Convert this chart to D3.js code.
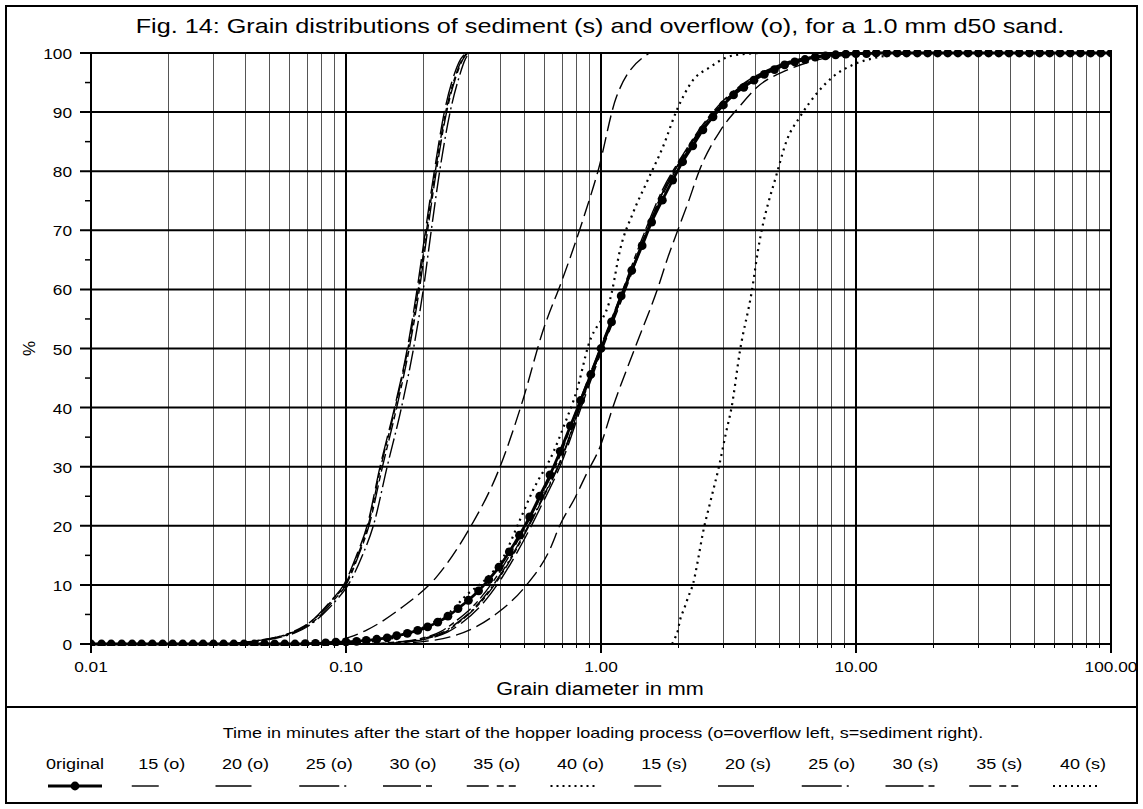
<html>
<head>
  <script src="https://d3js.org/d3.v7.min.js"></script>
  <style>
    body { margin: 0; background: #fff; }
    text { font-family: Arial, "Liberation Sans", sans-serif; fill: #000; }
  </style>
</head>
<body>
<svg id="chart"></svg>
<script type="text/javascript">
// sieve sizes (mm) of the original sample, one dot each
var sieveSizes = [
  0.0100, 0.0110, 0.0120, 0.0132, 0.0145, 0.0158, 0.0174, 0.0191, 0.0209, 0.0229,
  0.0251, 0.0275, 0.0302, 0.0331, 0.0363, 0.0398, 0.0437, 0.0479, 0.0525, 0.0575,
  0.0631, 0.0692, 0.0759, 0.0832, 0.0912,
  0.100, 0.110, 0.120, 0.132, 0.145, 0.158, 0.174, 0.191, 0.209, 0.229,
  0.251, 0.275, 0.302, 0.331, 0.363, 0.398, 0.437, 0.479, 0.525, 0.575,
  0.631, 0.692, 0.759, 0.832, 0.912,
  1.00, 1.10, 1.20, 1.32, 1.45, 1.58, 1.74, 1.91, 2.09, 2.29,
  2.51, 2.75, 3.02, 3.31, 3.63, 3.98, 4.37, 4.79, 5.25, 5.75,
  6.31, 6.92, 7.59, 8.32, 9.12,
  10.0, 11.0, 12.0, 13.2, 14.5, 15.8, 17.4, 19.1, 20.9, 22.9,
  25.1, 27.5, 30.2, 33.1, 36.3, 39.8, 43.7, 47.9, 52.5, 57.5,
  63.1, 69.2, 75.9, 83.2, 91.2,
  100
];
var originalPct = [
  0, 0, 0, 0, 0, 0, 0, 0, 0, 0, 0, 0, 0, 0, 0, 0, 0, 0, 0, 0, 0,
  0.05, 0.1, 0.2, 0.3, 0.35, 0.45, 0.6, 0.8, 1.05, 1.4,
  1.8, 2.3, 2.9, 3.7, 4.7, 6.0, 7.4, 9.0, 10.9, 13.0,
  15.6, 18.4, 21.5, 25.0, 28.6, 32.6, 36.9, 41.2, 45.6, 50.0,
  54.5, 58.9, 63.2, 67.4, 71.4, 75.1, 78.5, 81.6, 84.3, 87.0,
  89.2, 91.2, 92.9, 94.2, 95.4, 96.4, 97.2, 98.0, 98.5, 98.9,
  99.3, 99.5, 99.7, 99.8, 99.9, 99.9,
  100, 100, 100, 100, 100, 100, 100, 100, 100, 100, 100, 100,
  100, 100, 100, 100, 100, 100, 100, 100, 100, 100, 100, 100
];

// overflow samples [diameter mm, % passing]
var overflow15 = [[0.08,0],[0.104,1.2],[0.121,2.4],[0.167,6.3],[0.227,11.4],[0.298,18.8],[0.402,30],[0.494,41.3],[0.593,53.1],[0.70,61.3],[0.776,66.7],[0.86,72.5],[0.973,80],[1.15,92.6],[1.55,100]];
var overflow20 = [[0.034,0],[0.044,0.5],[0.054,1.2],[0.062,2],[0.069,3],[0.078,5],[0.088,7.5],[0.098,10],[0.110,15],[0.121,20],[0.136,30],[0.155,40],[0.174,50],[0.190,60],[0.205,70],[0.222,80],[0.243,90],[0.264,96],[0.282,99],[0.295,100]];
var overflow25 = [[0.036,0],[0.046,0.5],[0.056,1.2],[0.064,2],[0.071,3],[0.081,5],[0.092,7.5],[0.102,10],[0.116,15],[0.128,20],[0.145,30],[0.165,40],[0.184,50],[0.201,60],[0.216,70],[0.233,80],[0.256,90],[0.278,96],[0.294,99],[0.305,100]];
var overflow30 = [[0.035,0],[0.045,0.5],[0.055,1.2],[0.063,2],[0.070,3],[0.080,5],[0.090,7.5],[0.100,10],[0.112,15],[0.123,20],[0.139,30],[0.158,40],[0.177,50],[0.194,60],[0.209,70],[0.226,80],[0.248,90],[0.270,96],[0.288,99],[0.300,100]];
var overflow35 = [[0.035,0],[0.045,0.6],[0.055,1.3],[0.062,2.1],[0.069,3.1],[0.079,5.1],[0.089,7.6],[0.099,10],[0.111,15],[0.122,20],[0.137,30],[0.156,40],[0.175,50],[0.192,60],[0.207,70],[0.224,80],[0.246,90],[0.268,96],[0.286,99],[0.298,100]];
var overflow40 = [[0.10,0],[0.13,0.5],[0.17,1.5],[0.21,3.2],[0.256,5.4],[0.297,8.3],[0.35,10.8],[0.413,14.6],[0.481,21],[0.541,26],[0.648,32.3],[0.723,37.4],[0.805,43],[0.889,50.3],[1.101,59.4],[1.188,66.7],[1.334,72.9],[1.514,78.2],[1.749,84.1],[1.986,90.4],[2.295,95.4],[2.675,97.6],[3.12,99.3],[3.61,99.8],[4.2,100]];

// sediment samples
var sediment15 = [[0.15,0],[0.2,0.4],[0.256,1.2],[0.32,2.8],[0.391,5.2],[0.504,9.7],[0.63,16],[0.69,20.1],[0.79,24.7],[0.88,28.9],[0.99,33.3],[1.114,40.1],[1.359,50.1],[1.67,60.2],[1.832,65.5],[2.0,70],[2.2,74.8],[2.44,80.3],[2.93,86.8],[3.5,91],[4.09,94.2],[5.36,97.1],[7,98.8],[9,99.6],[11,100]];
var sediment20 = [[0.13,0],[0.17,0.3],[0.21,0.9],[0.25,2.0],[0.285,3.6],[0.34,6.6],[0.40,10.6],[0.49,17],[0.585,23.5],[0.71,31.3],[0.84,40.3],[1.01,49.8],[1.21,58.4],[1.46,67.8],[1.76,76.3],[2.11,82.4],[2.52,87.4],[3.02,91.4],[3.62,94.4],[4.52,96.9],[5.5,98.4],[7,99.3],[9,99.8],[11,100]];
var sediment25 = [[0.12,0],[0.16,0.3],[0.2,0.9],[0.24,2.0],[0.275,3.7],[0.33,6.8],[0.39,10.8],[0.48,17.3],[0.575,23.8],[0.7,31.5],[0.83,40.5],[1.0,49.8],[1.2,58.5],[1.45,68],[1.75,76.5],[2.1,82.5],[2.5,87.5],[3.0,91.5],[3.6,94.5],[4.5,97],[5.5,98.5],[7,99.4],[9,99.9],[11,100]];
var sediment30 = [[0.12,0],[0.155,0.3],[0.195,0.9],[0.235,2.1],[0.27,3.9],[0.325,7.0],[0.385,11.1],[0.475,17.7],[0.57,24.2],[0.69,31.8],[0.82,40.8],[0.99,50],[1.19,58.8],[1.44,68.3],[1.74,76.8],[2.09,82.7],[2.49,87.7],[2.98,91.7],[3.58,94.7],[4.48,97.1],[5.5,98.6],[7,99.5],[9,99.9],[11,100]];
var sediment35 = [[0.125,0],[0.165,0.3],[0.205,0.9],[0.245,2.0],[0.28,3.8],[0.335,6.9],[0.395,10.9],[0.485,17.4],[0.58,23.9],[0.705,31.6],[0.835,40.6],[1.005,50],[1.205,58.7],[1.455,68.1],[1.755,76.6],[2.105,82.6],[2.505,87.6],[3.0,91.6],[3.6,94.6],[4.5,97.0],[5.5,98.5],[7,99.4],[9,99.9],[11,100]];
var sediment40 = [[1.90,0],[1.95,1],[2.0,2.2],[2.04,4],[2.12,6],[2.2,8],[2.30,10.3],[2.4,14.2],[2.51,18.8],[2.675,23.8],[2.90,30],[3.09,35.7],[3.25,40],[3.51,49.7],[3.91,59.9],[4.13,66.7],[4.90,79.7],[5.36,85.3],[6.03,89.2],[7.03,93.2],[8.13,96],[9.73,98],[11.66,99.1],[14.0,99.7],[18,100]];

var legendLabels = ["0riginal", "15 (o)", "20 (o)", "25 (o)", "30 (o)", "35 (o)", "40 (o)",
                    "15 (s)", "20 (s)", "25 (o)", "30 (s)", "35 (s)", "40 (s)"];
var legendKeys = [0, 15, 20, 25, 30, 35, 40, 15, 20, 25, 30, 35, 40];
var yTicks = [0, 10, 20, 30, 40, 50, 60, 70, 80, 90, 100];
var yMinor = [5, 15, 25, 35, 45, 55, 65, 75, 85, 95];

var w = 1143;
var h = 809;

// line patterns per minute mark: chart dash, legend dash
var styles = {
  15: { dash: "16,6", legend: "27,100", len: 27 },
  20: { dash: "24,6", legend: "36,100", len: 36 },
  25: { dash: "20,4,2,4", legend: "40,5,2,100", len: 47 },
  30: { dash: "18,4,6,4", legend: "38,5,6,100", len: 49 },
  35: { dash: "14,3,5,3,5,3", legend: "22,8,7,5,7,100", len: 49 },
  40: { dash: "2,4.5", legend: "2,4", len: 48, dotted: true }
};

var series = [
  { pts: overflow15, s: 15 }, { pts: overflow20, s: 20 }, { pts: overflow25, s: 25 },
  { pts: overflow30, s: 30 }, { pts: overflow35, s: 35 }, { pts: overflow40, s: 40 },
  { pts: sediment15, s: 15 }, { pts: sediment20, s: 20 }, { pts: sediment25, s: 25 },
  { pts: sediment30, s: 30 }, { pts: sediment35, s: 35 }, { pts: sediment40, s: 40 }
];

// the original figure's lettering is a bit wider than Arial
function stretch(sel, k) {
  sel.each(function () {
    var len = this.getComputedTextLength();
    d3.select(this).attr("textLength", len * k).attr("lengthAdjust", "spacingAndGlyphs");
  });
}

var svg = d3.select("#chart").attr("width", w).attr("height", h);

var x = d3.scaleLog().domain([0.01, 100]).range([91, 1111]);
var y = d3.scaleLinear().domain([0, 100]).range([644, 53]);

// outer frame + separator
svg.append("rect")
  .attr("x", 6).attr("y", 6).attr("width", 1131).attr("height", 797)
  .attr("fill", "none").attr("stroke", "#000").attr("stroke-width", 2);
svg.append("line")
  .attr("x1", 6).attr("x2", 1137).attr("y1", 707).attr("y2", 707)
  .attr("stroke", "#000").attr("stroke-width", 2);

svg.append("text")
  .attr("x", 600).attr("y", 33)
  .attr("text-anchor", "middle")
  .attr("font-size", "21px")
  .text("Fig. 14: Grain distributions of sediment (s) and overflow (o), for a 1.0 mm d50 sand.")
  .call(stretch, 1.2);

// vertical grid, log ticks
var logTicks = x.ticks();
var isMajor = function (d) { return Math.abs(Math.log10(d) - Math.round(Math.log10(d))) < 1e-6; };

svg.append("g").selectAll("line")
  .data(logTicks.filter(function (d) { return !isMajor(d); }))
  .enter().append("line")
  .attr("x1", function (d) { return Math.round(x(d)) + 0.5; })
  .attr("x2", function (d) { return Math.round(x(d)) + 0.5; })
  .attr("y1", y(0)).attr("y2", y(100) - 1)
  .attr("stroke", "#555").attr("stroke-width", 1);

// horizontal grid
svg.append("g").selectAll("line")
  .data(yTicks)
  .enter().append("line")
  .attr("x1", 80).attr("x2", 1112)
  .attr("y1", function (d) { return y(d); })
  .attr("y2", function (d) { return y(d); })
  .attr("stroke", "#000").attr("stroke-width", 2);

svg.append("g").selectAll("line")
  .data(logTicks.filter(isMajor))
  .enter().append("line")
  .attr("x1", function (d) { return x(d); })
  .attr("x2", function (d) { return x(d); })
  .attr("y1", y(0) + 9).attr("y2", y(100) - 1)
  .attr("stroke", "#000").attr("stroke-width", 2);

// minor ticks on x axis
svg.append("g").selectAll("line")
  .data(logTicks.filter(function (d) { return !isMajor(d); }))
  .enter().append("line")
  .attr("x1", function (d) { return Math.round(x(d)) + 0.5; })
  .attr("x2", function (d) { return Math.round(x(d)) + 0.5; })
  .attr("y1", y(0)).attr("y2", y(0) + 4)
  .attr("stroke", "#000").attr("stroke-width", 1);

// minor ticks on y axis
svg.append("g").selectAll("line")
  .data(yMinor)
  .enter().append("line")
  .attr("x1", 85).attr("x2", 91)
  .attr("y1", function (d) { return y(d); })
  .attr("y2", function (d) { return y(d); })
  .attr("stroke", "#000").attr("stroke-width", 1.5);

// tick labels
svg.append("g").selectAll("text")
  .data(logTicks.filter(isMajor))
  .enter().append("text")
  .attr("x", function (d) { return x(d); })
  .attr("y", 672)
  .attr("text-anchor", "middle")
  .attr("font-size", "15px")
  .text(d3.format(".2f"))
  .call(stretch, 1.15);

svg.append("g").selectAll("text")
  .data(yTicks)
  .enter().append("text")
  .attr("x", 72)
  .attr("y", function (d) { return y(d) + 6; })
  .attr("text-anchor", "end")
  .attr("font-size", "15px")
  .text(function (d) { return d; })
  .call(stretch, 1.15);

svg.append("text")
  .attr("transform", "translate(35," + y(50) + ")rotate(-90)")
  .attr("text-anchor", "middle")
  .attr("font-size", "17px")
  .text("%");

svg.append("text")
  .attr("x", 600).attr("y", 695)
  .attr("text-anchor", "middle")
  .attr("font-size", "18px")
  .text("Grain diameter in mm")
  .call(stretch, 1.2);

// curves
svg.append("clipPath").attr("id", "plotclip")
  .append("rect").attr("x", 91).attr("y", 50).attr("width", 1021).attr("height", 596);

var line = d3.line()
  .x(function (d) { return x(d[0]); })
  .y(function (d) { return y(d[1]); })
  .curve(d3.curveMonotoneX);

var plot = svg.append("g").attr("clip-path", "url(#plotclip)");

plot.selectAll("path.curve")
  .data(series)
  .enter().append("path")
  .attr("class", "curve")
  .attr("d", function (d) { return line(d.pts); })
  .attr("fill", "none")
  .attr("stroke", "#000")
  .attr("stroke-width", function (d) { return styles[d.s].dotted ? 2.2 : 1.4; })
  .attr("stroke-dasharray", function (d) { return styles[d.s].dash; });

var original = sieveSizes.map(function (d, i) { return [d, originalPct[i]]; });

plot.append("path")
  .attr("d", line(original))
  .attr("fill", "none")
  .attr("stroke", "#000")
  .attr("stroke-width", 2.8);

plot.selectAll("circle")
  .data(original)
  .enter().append("circle")
  .attr("cx", function (d) { return x(d[0]); })
  .attr("cy", function (d) { return y(d[1]); })
  .attr("r", 4.4)
  .attr("fill", "#000");

// legend
svg.append("text")
  .attr("x", 603).attr("y", 738)
  .attr("text-anchor", "middle")
  .attr("font-size", "15px")
  .text("Time in minutes after the start of the hopper loading process (o=overflow left, s=sediment right).")
  .call(stretch, 1.2);

var lg = svg.append("g").selectAll("g")
  .data(legendLabels)
  .enter().append("g")
  .attr("transform", function (d, i) { return "translate(" + (i === 0 ? 75 : 78 + i * 83.75) + ",0)"; });

lg.append("text")
  .attr("y", 769)
  .attr("text-anchor", "middle")
  .attr("font-size", "15px")
  .text(function (d) { return d; })
  .call(stretch, 1.2);

lg.each(function (d, i) {
  var g = d3.select(this);
  var k = legendKeys[i];
  if (k === 0) {
    g.append("line").attr("x1", -27).attr("x2", 27).attr("y1", 786).attr("y2", 786)
      .attr("stroke", "#000").attr("stroke-width", 2.8);
    g.append("circle").attr("cx", 0).attr("cy", 786).attr("r", 4.4).attr("fill", "#000");
  } else {
    var st = styles[k];
    g.append("line").attr("x1", -30).attr("x2", -30 + st.len).attr("y1", 786).attr("y2", 786)
      .attr("stroke", "#000")
      .attr("stroke-width", st.dotted ? 2 : 1.4)
      .attr("stroke-dasharray", st.legend);
  }
});
</script>
</body>
</html>
